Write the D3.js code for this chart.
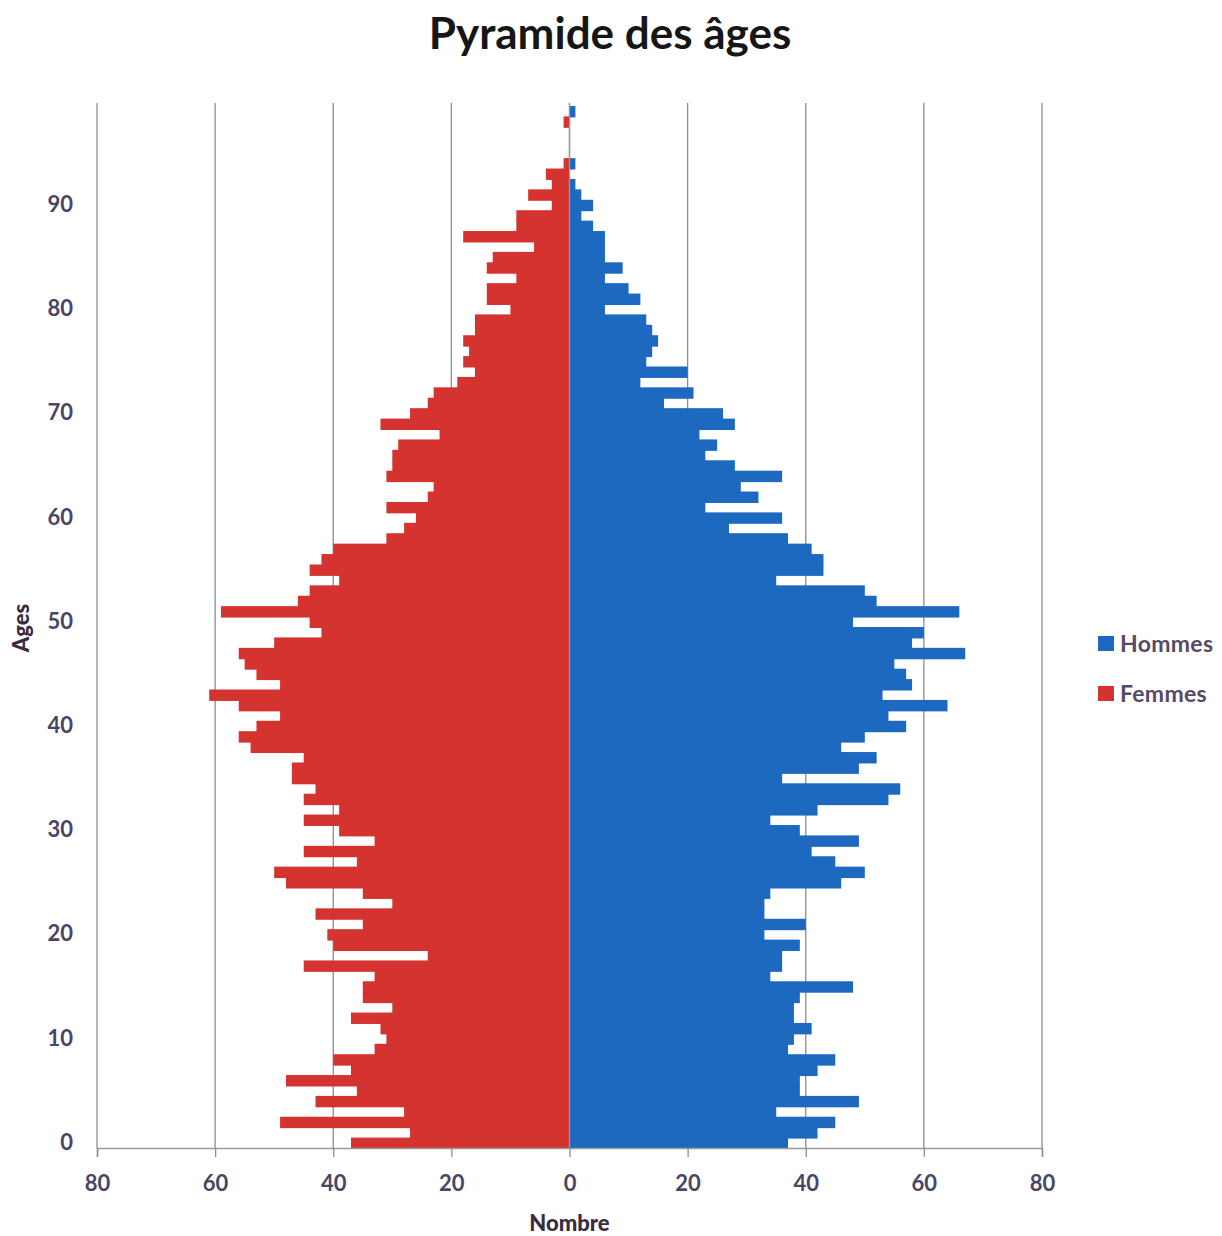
<!DOCTYPE html>
<html><head><meta charset="utf-8">
<script src="https://cdn.jsdelivr.net/npm/d3@7"></script>
<style>
html,body{margin:0;padding:0;background:#fff;}
svg{display:block;}
</style></head>
<body>
<svg id="chart" width="1222" height="1236"></svg>
<script>
// Data: index = age (0..99)
const hommes = [37,42,45,35,49,39,39,42,45,37, 38,41,38,38,39,48,34,36,36,39,
  33,40,33,33,34,46,50,45,41,49, 39,34,42,54,56,36,49,52,46,50,
  57,54,64,53,58,57,55,67,58,60, 48,66,52,50,35,43,43,41,37,27,
  36,23,32,29,36,28,23,25,22,28, 26,16,21,12,20,13,14,15,14,13,
  6,12,10,6,9,6,6,6,4,2, 4,2,1,0,1,0,0,0,0,1];
const femmes = [37,27,49,28,43,36,48,37,40,33, 31,32,37,30,35,35,33,45,24,40,
  41,35,43,30,35,48,50,36,45,33, 39,45,39,45,43,47,47,45,54,56,
  53,49,56,61,49,53,55,56,50,42, 44,59,46,44,39,44,42,40,31,28,
  26,31,24,23,31,30,30,29,22,32, 27,24,23,19,16,18,17,18,16,16,
  10,14,14,9,14,13,6,18,9,9, 3,7,3,4,1,0,0,0,1,0];
const ages = hommes.map((_, i) => i);
const xTicks = [-80,-60,-40,-20,0,20,40,60,80];
const yTicks = [0,10,20,30,40,50,60,70,80,90];
const seriesNames = ["Hommes","Femmes"];
const colors = {Hommes:"#1c69bf", Femmes:"#d4332f"};

const svg = d3.select("#chart");
const mLeft = 97, mRight = 1042, mTop = 106, mBottom = 1148;
const x = d3.scaleLinear().domain([-80,80]).range([mLeft,mRight]);
const y = d3.scaleBand().domain(ages).range([mBottom, mTop]).paddingInner(0).paddingOuter(0);
const labelColor = "#4a4563";
const font = "Lato, 'Open Sans', sans-serif";

// gridlines
svg.append("g").selectAll("line").data(xTicks).join("line")
  .attr("x1", d => x(d)).attr("x2", d => x(d))
  .attr("y1", 103).attr("y2", mBottom)
  .attr("stroke", "#8c8c8c").attr("stroke-width", 1.3);

// bars
svg.append("g").selectAll("rect").data(ages).join("rect")
  .attr("x", d => x(-femmes[d])).attr("width", d => x(0) - x(-femmes[d]))
  .attr("y", d => y(d)).attr("height", d => d === 0 ? y.bandwidth() : y.bandwidth() + 1)
  .attr("fill", colors.Femmes);
svg.append("g").selectAll("rect").data(ages).join("rect")
  .attr("x", x(0)).attr("width", d => x(hommes[d]) - x(0))
  .attr("y", d => y(d)).attr("height", d => d === 0 ? y.bandwidth() : y.bandwidth() + 1)
  .attr("fill", colors.Hommes);

// zero line
svg.append("line").attr("x1", x(0)).attr("x2", x(0)).attr("y1", mTop - 3).attr("y2", mBottom)
  .attr("stroke", "#9a9a9a").attr("stroke-width", 1.3);

// x axis
const xAxis = d3.axisBottom(x).tickValues(xTicks).tickFormat(d => Math.abs(d)).tickSize(9).tickPadding(18);
const gx = svg.append("g").attr("transform", `translate(0,${mBottom})`).call(xAxis);
gx.select(".domain").attr("stroke", "#9a9a9a").attr("stroke-width", 1.5);
gx.selectAll(".tick line").attr("stroke", "#8c8c8c").attr("stroke-width", 1.3);
gx.selectAll("text").attr("font-family", font).attr("font-weight", "bold")
  .attr("font-size", 22).attr("fill", labelColor);

// y axis
const yAxis = d3.axisLeft(y).tickValues(yTicks).tickSize(0).tickPadding(24);
const gy = svg.append("g").attr("transform", `translate(${mLeft},0)`).call(yAxis);
gy.select(".domain").remove();
gy.selectAll("text").attr("font-family", font).attr("font-weight", "bold")
  .attr("font-size", 22).attr("fill", labelColor);

// title
svg.append("text").attr("x", 610).attr("y", 49).attr("text-anchor", "middle")
  .attr("font-family", font).attr("font-weight", "bold").attr("font-size", 44)
  .attr("fill", "#161616").text("Pyramide des âges");

// axis titles
svg.append("text").attr("x", x(0)).attr("y", 1231).attr("text-anchor", "middle")
  .attr("font-family", font).attr("font-weight", "900").attr("font-size", 22)
  .attr("fill", "#3b2b3e").text("Nombre");
svg.append("text").attr("transform", "translate(29,628) rotate(-90)").attr("text-anchor", "middle")
  .attr("font-family", font).attr("font-weight", "900").attr("font-size", 22)
  .attr("fill", "#3b2b3e").text("Ages");

// legend
const leg = svg.append("g").selectAll("g").data(seriesNames).join("g")
  .attr("transform", (d, i) => `translate(1098,${636 + i * 50})`);
leg.append("rect").attr("width", 16).attr("height", 15).attr("fill", d => colors[d]);
leg.append("text").attr("x", 22).attr("y", 16).attr("font-family", font)
  .attr("font-weight", "bold").attr("font-size", 23).attr("letter-spacing", 0.3)
  .attr("fill", "#574a66").text(d => d);
</script>
</body></html>
